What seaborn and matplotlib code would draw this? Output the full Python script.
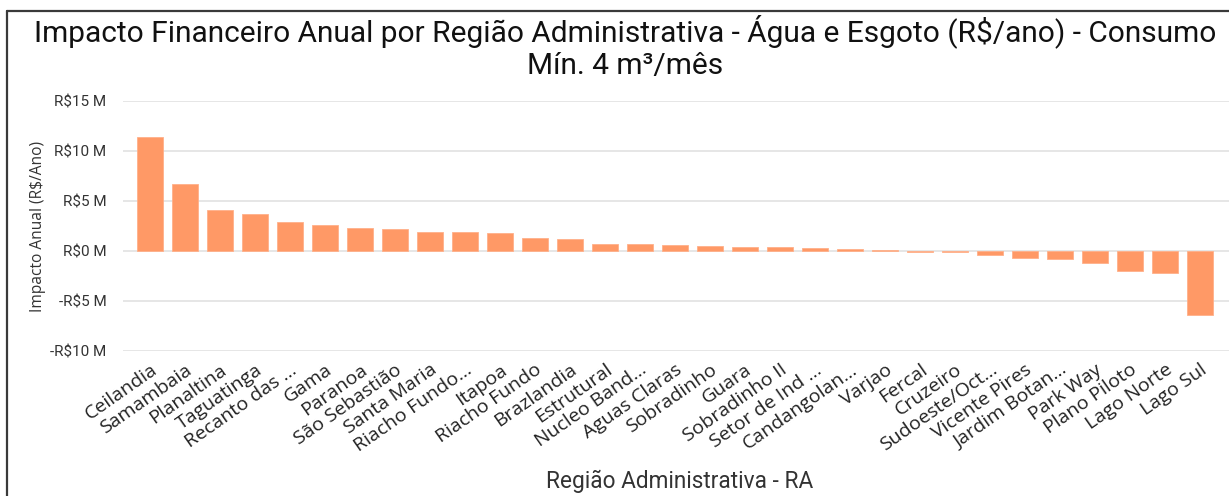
import matplotlib
matplotlib.use("Agg")
import matplotlib.pyplot as plt
from matplotlib import font_manager
from matplotlib.lines import Line2D
from matplotlib.ticker import FixedLocator, FuncFormatter
import seaborn as sns
import pandas as pd

# Regions and annual financial impact (millions of R$ per year)
regioes = [
    "Ceilandia", "Samambaia", "Planaltina", "Taguatinga", "Recanto das …",
    "Gama", "Paranoa", "São Sebastião", "Santa Maria", "Riacho Fundo…",
    "Itapoa", "Riacho Fundo", "Brazlandia", "Estrutural", "Nucleo Band…",
    "Aguas Claras", "Sobradinho", "Guara", "Sobradinho II", "Setor de Ind …",
    "Candangolan…", "Varjao", "Fercal", "Cruzeiro", "Sudoeste/Oct…",
    "Vicente Pires", "Jardim Botan…", "Park Way", "Plano Piloto", "Lago Norte",
    "Lago Sul",
]
impacto_milhoes = [
    11.4, 6.7, 4.07, 3.67, 2.93,
    2.6, 2.27, 2.17, 1.9, 1.87,
    1.83, 1.27, 1.2, 0.73, 0.7,
    0.57, 0.53, 0.43, 0.43, 0.3,
    0.23, 0.13, -0.1, -0.1, -0.37,
    -0.7, -0.8, -1.17, -2.03, -2.17,
    -6.37,
]
y_ticks = [-10, -5, 0, 5, 10, 15]

df = pd.DataFrame({"RA": regioes, "Impacto": impacto_milhoes})

sns.set_theme(style="white")
available = {f.name for f in font_manager.fontManager.ttflist}


def pick(*names):
    fams = [n for n in names if n in available]
    return fams + ["DejaVu Sans"]


din = pick("Roboto", "Liberation Sans")
body = pick("Open Sans", "Noto Sans")
plt.rcParams["font.family"] = body

W, H = 1229, 496
fig = plt.figure(figsize=(W / 100, H / 100), dpi=100)
ax = fig.add_axes([123 / W, 1 - 351 / H, (W - 123) / W, 250 / H])

sns.barplot(data=df, x="RA", y="Impacto", color="#FF9966", saturation=1,
            width=0.74, ax=ax, zorder=3, edgecolor="#FFB08A", linewidth=0.6)

ax.set_ylim(-10, 15)
ax.set_xlim(-0.771, 30.83)
ax.yaxis.set_major_locator(FixedLocator(y_ticks))
ax.yaxis.set_major_formatter(FuncFormatter(
    lambda v, _: f"-R${abs(v):.0f} M" if v < 0 else f"R${v:.0f} M"))
ax.grid(axis="y", color="#E6E6E6", linewidth=1.4, zorder=0)
ax.grid(axis="x", visible=False)
ax.set_axisbelow(True)
for s in ax.spines.values():
    s.set_visible(False)
ax.tick_params(axis="both", length=0)
ax.tick_params(axis="y", pad=12)

for lab in ax.get_yticklabels():
    lab.set_family(din)
    lab.set_fontsize(11)
    lab.set_color("#333333")

ax.set_xticks(range(len(regioes)))
ax.set_xticklabels(regioes, rotation=35, ha="right", va="top",
                   rotation_mode="anchor", fontsize=14, color="#222222")
ax.tick_params(axis="x", pad=7)

ax.set_ylabel("Impacto Anual (R$/Ano)", fontsize=11.2, color="#333333")
ax.yaxis.set_label_coords(-77 / 1106, 0.5)
ax.set_xlabel("")

fig.text(680 / W, 1 - 481 / H, "Região Administrativa - RA", family=din,
         fontsize=16.3, color="#333333", ha="center", va="center")

fig.text(625 / W, 1 - 31 / H, "Impacto Financeiro Anual por Região Administrativa - Água e Esgoto (R$/ano) - Consumo",
         family=din, fontsize=21.5, color="#111111", ha="center", va="center")
fig.text(625 / W, 1 - 66 / H, "Mín. 4 m³/mês",
         family=din, fontsize=21.5, color="#111111", ha="center", va="center")

# outer frame (left and top edges)
fig.add_artist(Line2D([7 / W, 7 / W], [0, 1 - 11 / H], transform=fig.transFigure,
                      color="#3A3A3A", linewidth=1.6))
fig.add_artist(Line2D([7 / W, 1], [1 - 11 / H, 1 - 11 / H], transform=fig.transFigure,
                      color="#3A3A3A", linewidth=1.6))

fig.savefig("out.png", dpi=100)
